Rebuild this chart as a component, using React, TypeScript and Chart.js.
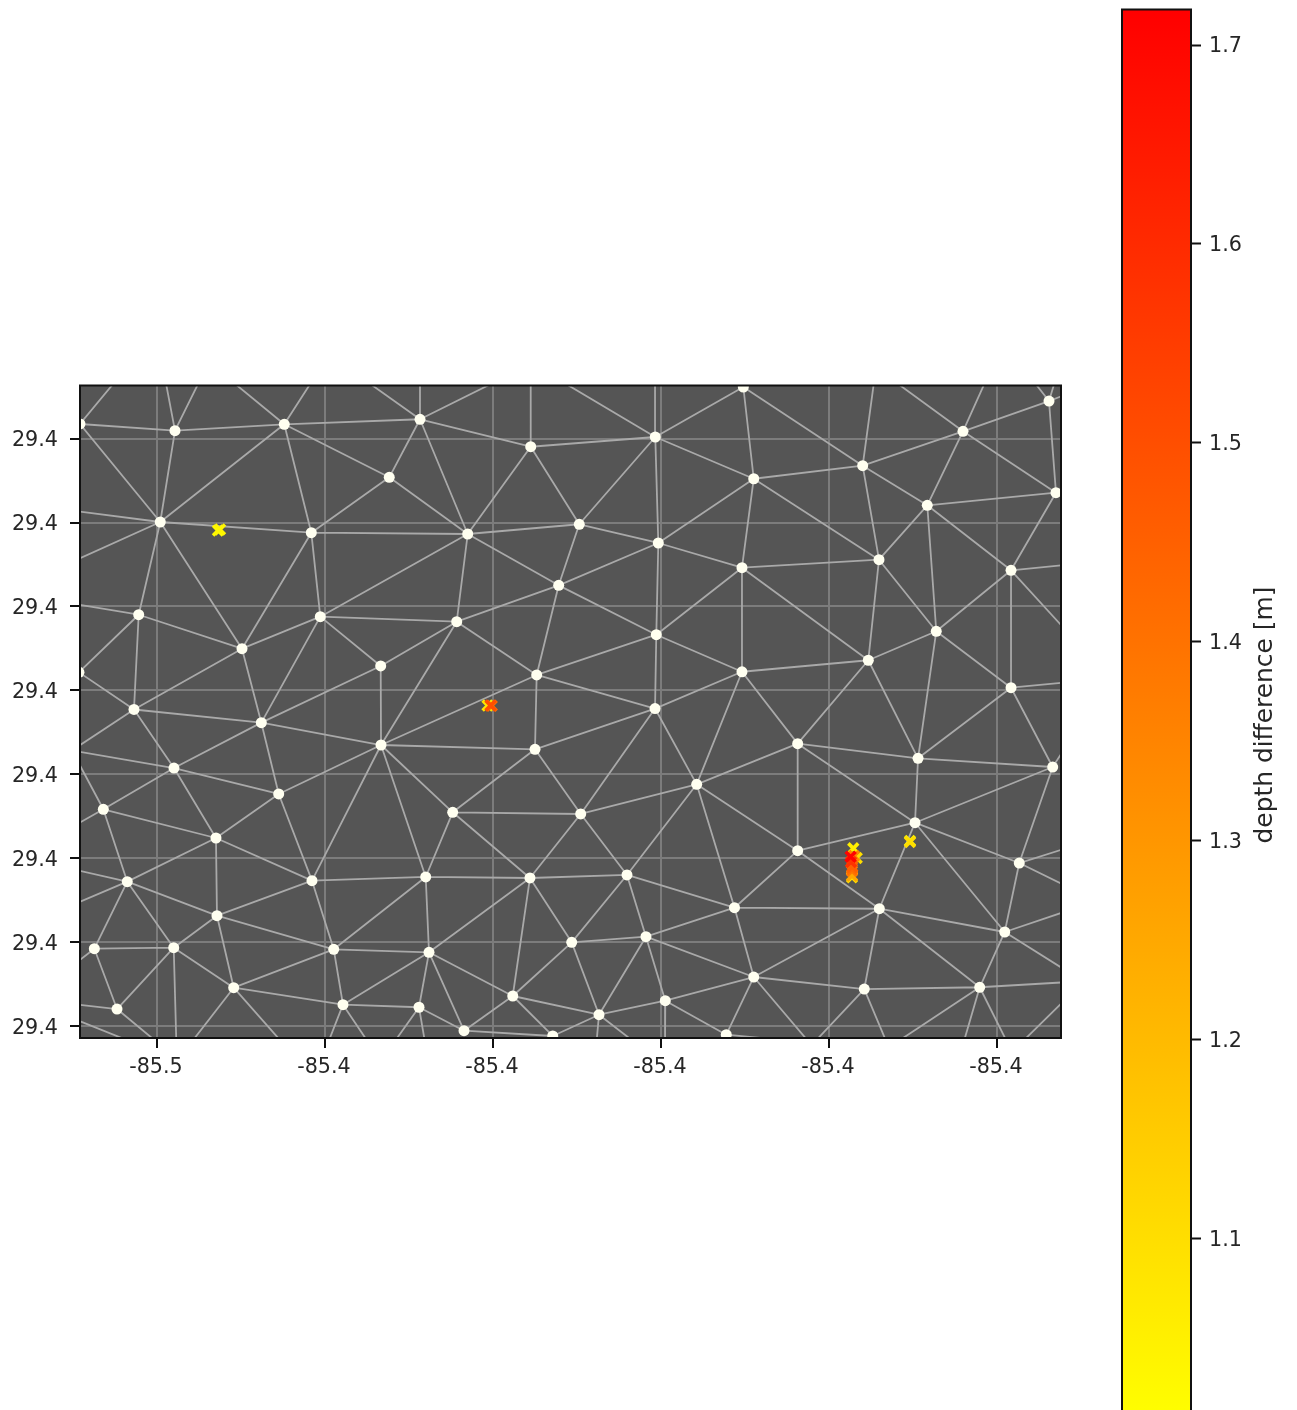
import React, { useEffect, useRef } from "react";
import { Chart, registerables } from "chart.js";

Chart.register(...registerables);

const nodeLon = [
  -85.46917, -85.45786, -85.44485, -85.43235, -85.45961, -85.44163, -85.46218, -85.44056, -85.44988, -85.43337,
  -85.46929, -85.46274, -85.42869, -85.41551, -85.40068, -85.42301, -85.40973, -85.40032, -85.39036, -85.41218,
  -85.42432, -85.40056, -85.39036, -85.4148, -85.40071, -85.3902, -85.35381, -85.36405, -85.37599, -85.38896,
  -85.35298, -85.3683, -85.37405, -85.35833, -85.36723, -85.37532, -85.35833, -85.44758, -85.43333, -85.45798,
  -85.44551, -85.46639, -85.45298, -85.44155, -85.46354, -85.45286, -85.46746, -85.45801, -85.43896, -85.45087,
  -85.43786, -85.46476, -85.415, -85.39575, -85.4248, -85.40956, -85.42801, -85.4156, -85.40405, -85.39125,
  -85.41063, -85.40179, -85.42762, -85.41765, -85.39949, -85.42881, -85.40738, -85.42345, -85.41289, -85.39223,
  -85.38373, -85.3694, -85.35337, -85.36976, -85.38373, -85.35735, -85.37401, -85.35908, -85.38896, -85.3758,
  -85.36206,
  -85.46464, -85.45905, -85.45476, -85.45155, -85.44131, -85.47012, -85.47012, -85.47012, -85.47012, -85.47012,
  -85.47012, -85.47012, -85.47012, -85.47012, -85.47012, -85.46274, -85.45917, -85.45768, -85.45643, -85.44452,
  -85.43988, -85.4344, -85.43226, -85.42798, -85.40774, -85.40226, -85.39952, -85.37869, -85.38179, -85.38238,
  -85.37286, -85.37298, -85.36417, -85.35845, -85.35774, -85.35131, -85.35131, -85.35131, -85.35131, -85.35131,
  -85.35131, -85.35167, -85.35119, -85.35119, -85.35119, -85.35119, -85.35119, -85.35298, -85.35595, -85.36119,
  -85.37274, -85.37458, -85.4125, -85.40071, -85.41551, -85.42869, -85.41881, -85.4356,
];

const nodeLat = [
  29.43173, 29.43093, 29.43169, 29.42538, 29.42006, 29.41879, 29.40902, 29.40879, 29.40498, 29.40292,
  29.40217, 29.39774, 29.43229, 29.42902, 29.43018, 29.41863, 29.41979, 29.41756, 29.41462, 29.41252,
  29.40819, 29.40664, 29.40223, 29.40185, 29.39785, 29.43613, 29.43446, 29.43086, 29.42676, 29.42521,
  29.42355, 29.42205, 29.41557, 29.41431, 29.40705, 29.4036, 29.40033, 29.39617, 29.39351, 29.39077,
  29.38768, 29.38586, 29.38244, 29.37736, 29.37724, 29.37319, 29.36926, 29.36938, 29.36919, 29.36462,
  29.3626, 29.36208, 29.393, 29.38883, 29.3855, 29.3853, 29.3778, 29.37768, 29.37804, 29.37414,
  29.37002, 29.37069, 29.36883, 29.36363, 29.36307, 29.36229, 29.3614, 29.3595, 29.35887, 29.35902,
  29.39367, 29.39193, 29.39089, 29.38426, 29.38093, 29.37946, 29.37402, 29.37125, 29.36589, 29.36446,
  29.36467,
  29.4372, 29.4372, 29.4372, 29.4372, 29.4372, 29.42143, 29.4153, 29.41036, 29.39286, 29.38375,
  29.37875, 29.37446, 29.3672, 29.36268, 29.36101, 29.35804, 29.35744, 29.35744, 29.35744, 29.35744,
  29.35744, 29.35744, 29.35744, 29.35744, 29.35744, 29.35744, 29.35744, 29.35774, 29.35744, 29.35744,
  29.35744, 29.35744, 29.35744, 29.35744, 29.35744, 29.36375, 29.3653, 29.36637, 29.37387, 29.37649,
  29.38137, 29.39351, 29.40101, 29.40649, 29.415, 29.42375, 29.43548, 29.4372, 29.4372, 29.4372,
  29.4372, 29.4372, 29.4372, 29.4372, 29.4372, 29.4372, 29.4372, 29.4372,
];

const edges: [number, number][] = [
  [0,1],[1,2],[2,12],[0,4],[1,4],[2,4],[2,3],[2,5],[3,5],[3,12],[3,15],[4,5],[4,6],[4,8],[5,7],[5,8],[5,15],[6,10],[6,8],[6,11],
  [7,8],[7,9],[7,20],[7,15],[7,37],[8,11],[8,37],[9,38],[9,37],[9,20],[10,11],[20,38],
  [11,37],[11,39],[37,38],[37,39],[37,40],[39,40],[39,41],[39,42],[40,38],[40,42],[40,43],[41,42],[41,44],[42,44],[42,43],[42,45],
  [43,38],[43,45],[43,48],[43,56],[44,45],[44,46],[44,47],[45,47],[45,48],[45,49],[46,47],[46,51],[47,51],[47,49],[48,49],[48,50],
  [48,62],[48,56],[49,50],[50,62],[50,65],
  [52,38],[24,52],[23,52],[52,54],[52,55],[38,54],[38,56],[54,56],[54,55],[54,57],[55,57],[55,58],[55,24],[55,53],[53,24],[22,53],
  [53,70],[53,74],[53,58],[53,59],[56,57],[56,62],[57,58],[57,62],[57,63],[57,60],[58,60],[58,61],[58,59],[59,61],[60,61],[60,63],
  [60,66],[61,66],[61,64],[61,78],[62,63],[62,65],[62,67],[63,66],[63,67],[63,68],[65,67],[67,68],[66,68],[66,64],[64,78],[64,69],[69,78],
  [22,70],[35,70],[70,71],[70,73],[70,74],[71,72],[71,73],[35,71],[34,71],[36,71],[36,72],[72,73],[72,75],[73,74],[73,75],[73,76],
  [73,77],[74,59],[74,76],[75,77],[59,76],[59,78],[76,77],[76,78],[76,79],[76,80],[77,80],[78,79],[79,80],
  [14,25],[25,29],[25,28],[12,13],[12,15],[13,14],[13,15],[13,16],[14,16],[14,17],[14,29],[15,16],[15,19],[15,20],[16,17],[16,19],
  [17,18],[17,19],[17,21],[17,29],[19,20],[19,21],[19,23],[18,21],[18,22],[18,29],[18,32],[21,22],[21,23],[21,24],[20,23],[38,23],
  [24,23],[24,22],[22,35],[18,35],[29,28],[29,32],[28,27],[28,31],[28,32],[27,26],[27,31],[27,30],[26,30],[30,33],[31,30],[31,32],
  [31,33],[31,34],[32,34],[32,35],[33,34],[33,36],[34,35],[34,36],
  [0,81],[1,82],[1,83],[2,84],[2,85],[4,86],[4,87],[6,88],[11,89],[39,89],[41,89],[41,90],[44,91],[44,92],[46,93],[51,94],[95,96],
  [51,97],[47,98],[49,99],[49,100],[50,101],[50,102],[65,103],[65,104],[66,105],[66,106],[64,107],[69,108],[78,109],[79,110],[79,111],
  [80,112],[80,113],[80,114],[115,116],[80,117],[77,118],[77,119],[75,120],[75,121],[72,122],[36,123],[33,124],[33,125],[30,126],
  [26,127],[26,128],[26,129],[27,130],[27,131],[28,132],[14,133],[14,134],[13,135],[12,136],[12,137],[12,138],
];

const obsLon = [
  -85.45274, -85.4525, -85.42065, -85.42015, -85.4203, -85.37711, -85.3767, -85.37036, -85.37036, -85.37726, -85.37726,
  -85.37726, -85.37702, -85.37726, -85.37723, -85.37738, -85.37742,
];
const obsLat = [
  29.41905, 29.41917, 29.39821, 29.39819, 29.39821, 29.38121, 29.38006, 29.38208, 29.38196, 29.37775, 29.37795,
  29.37851, 29.3803, 29.37875, 29.37902, 29.37958, 29.38021,
];
const obsDepth = [1.02, 1.03, 1.08, 1.42, 1.5, 1.05, 1.1, 1.03, 1.1, 1.1, 1.25, 1.38, 1.35, 1.42, 1.45, 1.58, 1.71];

const lonTicks = [-85.46, -85.44, -85.42, -85.4, -85.38, -85.36];
const latTicks = [29.36, 29.37, 29.38, 29.39, 29.4, 29.41, 29.42, 29.43];
const lonRange = [-85.469167, -85.352381];
const latRange = [29.35863, 29.43631];

const depthTicks = [1.1, 1.2, 1.3, 1.4, 1.5, 1.6, 1.7];
const depthRange = [1.01363, 1.71786];
const depthLimits = [1.0084, 1.71786];
const depthLabelCentre = 1.3631;
const colormapEnds = ["#ffff00", "#ff0000"];
const depthLabel = "depth difference [m]";

const FONT = '"DejaVu Sans"';
const TEXT = "#262626";
const TICK_SIZE = 20.7;
const LABEL_SIZE = 24.9;
const NODE_MARGIN = 0.0005;

function depthColour(v: number): string {
  const t = (v - depthLimits[0]) / (depthLimits[1] - depthLimits[0]);
  return `rgb(255,${Math.round(255 * (1 - t))},0)`;
}

function noLabelPadding(s: any) {
  s.paddingTop = 0;
  s.paddingBottom = 0;
  s.paddingLeft = 0;
  s.paddingRight = 0;
}

const inLon = (v: number) => v >= lonRange[0] - NODE_MARGIN && v <= lonRange[1] + NODE_MARGIN;
const inLat = (v: number) => v >= latRange[0] - NODE_MARGIN && v <= latRange[1] + NODE_MARGIN;

export default function App() {
  const mainRef = useRef<HTMLCanvasElement>(null);
  const barRef = useRef<HTMLCanvasElement>(null);

  useEffect(() => {
    const edgePoints: any[] = [];
    edges.forEach(([a, b]) => {
      edgePoints.push({ x: nodeLon[a], y: nodeLat[a] });
      edgePoints.push({ x: nodeLon[b], y: nodeLat[b] });
      edgePoints.push({ x: nodeLon[b], y: NaN });
    });
    const nodePoints = nodeLon
      .map((x, i) => ({ x, y: nodeLat[i] }))
      .filter((p) => inLon(p.x) && inLat(p.y));

    const frame = {
      id: "frame",
      beforeDraw(c: any) {
        const { left, top, width, height } = c.chartArea;
        c.ctx.save();
        c.ctx.fillStyle = "#555555";
        c.ctx.fillRect(left, top, width, height);
        c.ctx.restore();
      },
      afterDraw(c: any) {
        const { left, top, width, height } = c.chartArea;
        c.ctx.save();
        c.ctx.strokeStyle = "#111111";
        c.ctx.lineWidth = 2;
        c.ctx.strokeRect(left, top, width, height);
        c.ctx.restore();
      },
    };

    const main = new Chart(mainRef.current!, {
      type: "scatter",
      data: {
        datasets: [
          {
            label: "observations",
            data: obsLon.map((x, i) => ({ x, y: obsLat[i] })),
            pointStyle: "crossRot",
            pointRadius: 7,
            pointBorderWidth: 3.6,
            pointBorderColor: obsDepth.map(depthColour),
            backgroundColor: "transparent",
            order: 0,
            clip: 0,
          },
          {
            label: "nodes",
            data: nodePoints,
            pointStyle: "circle",
            pointRadius: 5.5,
            pointBorderWidth: 0,
            backgroundColor: "#fffff0",
            order: 1,
            clip: 0,
          },
          {
            label: "mesh",
            data: edgePoints,
            showLine: true,
            spanGaps: false,
            borderColor: "#a9a9a9",
            borderWidth: 1.8,
            pointRadius: 0,
            order: 2,
            clip: 0,
          },
        ],
      } as any,
      options: {
        animation: false,
        responsive: false,
        devicePixelRatio: 1,
        layout: { padding: { left: 0, right: 39, top: 15.5, bottom: 0 } },
        plugins: { legend: { display: false }, tooltip: { enabled: false } },
        scales: {
          x: {
            type: "linear",
            min: lonRange[0],
            max: lonRange[1],
            afterBuildTicks: (s: any) => {
              s.ticks = lonTicks.map((value) => ({ value }));
            },
            afterFit: (s: any) => {
              s.height = 62;
              noLabelPadding(s);
            },
            grid: { color: "#7c7c7c", lineWidth: 2, tickColor: "#111111", tickWidth: 2, tickLength: 10 },
            border: { display: false },
            ticks: {
              padding: 7,
              labelOffset: -1,
              autoSkip: false,
              maxRotation: 0,
              color: TEXT,
              font: { family: FONT, size: TICK_SIZE },
              callback: (v: any) => Number(v).toFixed(1),
            },
          },
          y: {
            type: "linear",
            min: latRange[0],
            max: latRange[1],
            afterBuildTicks: (s: any) => {
              s.ticks = latTicks.map((value) => ({ value }));
            },
            afterFit: (s: any) => {
              s.width = 80;
              noLabelPadding(s);
            },
            grid: { color: "#7c7c7c", lineWidth: 2, tickColor: "#111111", tickWidth: 2, tickLength: 10 },
            border: { display: false },
            ticks: {
              padding: 12,
              labelOffset: 2,
              autoSkip: false,
              color: TEXT,
              font: { family: FONT, size: TICK_SIZE },
              callback: (v: any) => Number(v).toFixed(1),
            },
          },
        },
      },
      plugins: [frame],
    } as any);

    const barFrame = {
      id: "barFrame",
      afterDraw(c: any) {
        const { left, right, top, bottom } = c.chartArea;
        const y = c.scales.y;
        const ctx = c.ctx;
        ctx.save();
        ctx.strokeStyle = "#111111";
        ctx.lineWidth = 2;
        ctx.beginPath();
        ctx.moveTo(left, bottom);
        ctx.lineTo(left, top);
        ctx.lineTo(right, top);
        ctx.lineTo(right, bottom);
        ctx.stroke();
        ctx.fillStyle = TEXT;
        ctx.font = `${LABEL_SIZE}px ${FONT}`;
        ctx.textAlign = "center";
        ctx.textBaseline = "middle";
        ctx.translate(right + 74.5, y.getPixelForValue(depthLabelCentre));
        ctx.rotate(-Math.PI / 2);
        ctx.fillText(depthLabel, 0, 0);
        ctx.restore();
      },
    };

    const bar = new Chart(barRef.current!, {
      type: "bar",
      data: {
        labels: [depthLabel],
        datasets: [
          {
            data: [[depthRange[0], depthRange[1]]],
            barPercentage: 1,
            categoryPercentage: 1,
            borderWidth: 0,
            backgroundColor: (context: any) => {
              const { chart } = context;
              const y = chart.scales.y;
              if (!chart.chartArea || !y) return colormapEnds[0];
              const g = chart.ctx.createLinearGradient(
                0,
                y.getPixelForValue(depthLimits[0]),
                0,
                y.getPixelForValue(depthLimits[1])
              );
              g.addColorStop(0, colormapEnds[0]);
              g.addColorStop(1, colormapEnds[1]);
              return g;
            },
          },
        ],
      },
      options: {
        animation: false,
        responsive: false,
        devicePixelRatio: 1,
        layout: { padding: { left: 22, right: 0, top: 9.5, bottom: 0 } },
        plugins: { legend: { display: false }, tooltip: { enabled: false } },
        scales: {
          x: { display: false },
          y: {
            position: "right",
            type: "linear",
            min: depthRange[0],
            max: depthRange[1],
            afterBuildTicks: (s: any) => {
              s.ticks = depthTicks.map((value) => ({ value }));
            },
            afterFit: (s: any) => {
              s.width = 106;
              noLabelPadding(s);
            },
            grid: {
              drawOnChartArea: false,
              tickColor: "#111111",
              tickWidth: 2,
              tickLength: 10,
            },
            border: { display: false },
            ticks: {
              padding: 8,
              labelOffset: 2,
              autoSkip: false,
              color: TEXT,
              font: { family: FONT, size: TICK_SIZE },
              callback: (v: any) => Number(v).toFixed(1),
            },
          },
        },
      },
      plugins: [barFrame],
    } as any);

    return () => {
      main.destroy();
      bar.destroy();
    };
  }, []);

  const soft = "blur(0.55px)";
  return (
    <div style={{ position: "absolute", left: 0, top: 0, width: 1297, height: 1410, overflow: "hidden", background: "#fff" }}>
      <canvas ref={mainRef} width={1100} height={730} style={{ position: "absolute", left: 0, top: 370, filter: soft }} />
      <canvas ref={barRef} width={197} height={1410} style={{ position: "absolute", left: 1100, top: 0, filter: soft }} />
    </div>
  );
}
